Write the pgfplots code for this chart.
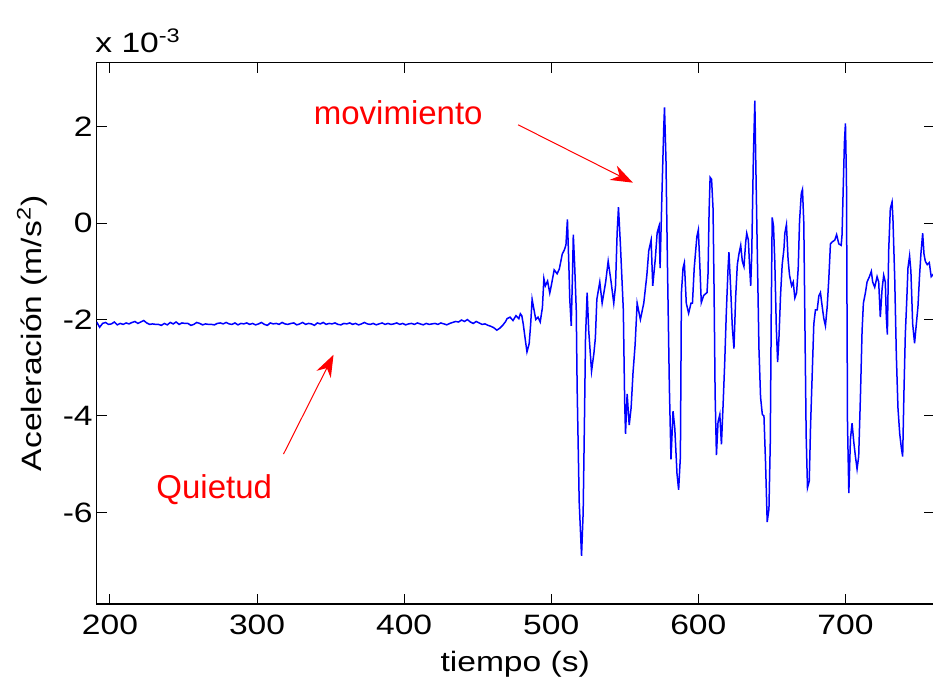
\documentclass[border=0pt]{standalone}
\usepackage{pgfplots}
\pgfplotsset{compat=1.18}
\usepackage{fontspec}
\setmainfont[FakeStretch=1.2]{Liberation Sans}
\newfontfamily\annfont{Liberation Sans}
\usetikzlibrary{arrows.meta}
\newcommand\ff{\fontsize{14}{17}\selectfont}
\begin{document}
\begin{tikzpicture}
\begin{axis}[
  scale only axis, width=418.5pt, height=270.7pt,
  at={(0,0)}, anchor=south west,
  xmin=191, xmax=760, ymin=-7.9, ymax=3.33,
  xtick={200,300,400,500,600,700},
  ytick={-6,-4,-2,0,2},
  tick align=inside, major tick length=5pt,
  axis line style={line width=0.6pt},
  tick style={black, line width=0.5pt},
  scaled ticks=false,
  /pgf/number format/assume math mode=true,
  tick label style={font=\ff},
  yticklabel style={xshift=1.5pt},
  xticklabel style={yshift=-2pt},
  xlabel={tiempo (s)},
  ylabel={Aceleración (m/s\textsuperscript{2})},
  every axis x label/.style={at={(axis description cs:0.5,-0.1256)}, anchor=base, font=\ff},
  every axis y label/.style={at={(axis description cs:-0.0773,0.5)}, rotate=90, anchor=center, font=\ff},
  clip=true,
]
\addplot[blue, line width=0.75pt] coordinates {
(191,-2.05) (193,-2.16) (195,-2.08) (197,-2.06) (199,-2.10) (201,-2.09) (203,-2.05) (205,-2.11) (207,-2.08) (209,-2.10)
(211,-2.07) (213,-2.09) (215,-2.06) (217,-2.04) (219,-2.08) (221,-2.05) (223,-2.02) (225,-2.07) (227,-2.10) (229,-2.09)
(231,-2.10) (233,-2.10) (235,-2.12) (237,-2.08) (239,-2.11) (241,-2.06) (243,-2.09) (245,-2.05) (247,-2.10) (249,-2.07)
(251,-2.08) (253,-2.08) (255,-2.12) (257,-2.10) (259,-2.06) (261,-2.08) (263,-2.11) (265,-2.09) (267,-2.10) (269,-2.10)
(271,-2.11) (273,-2.08) (275,-2.07) (277,-2.09) (279,-2.06) (281,-2.09) (283,-2.10) (285,-2.07) (287,-2.11) (289,-2.08)
(291,-2.09) (293,-2.07) (295,-2.10) (297,-2.08) (299,-2.11) (301,-2.09) (303,-2.06) (305,-2.10) (307,-2.12) (309,-2.07)
(311,-2.09) (313,-2.08) (315,-2.10) (317,-2.06) (319,-2.09) (321,-2.10) (323,-2.08) (325,-2.07) (327,-2.11) (329,-2.09)
(331,-2.06) (333,-2.10) (335,-2.08) (337,-2.09) (339,-2.12) (341,-2.07) (343,-2.09) (345,-2.06) (347,-2.10) (349,-2.08)
(351,-2.09) (353,-2.07) (355,-2.10) (357,-2.11) (359,-2.08) (361,-2.09) (363,-2.07) (365,-2.10) (367,-2.08) (369,-2.11)
(371,-2.09) (373,-2.06) (375,-2.09) (377,-2.10) (379,-2.08) (381,-2.11) (383,-2.09) (385,-2.07) (387,-2.10) (389,-2.08)
(391,-2.10) (393,-2.09) (395,-2.07) (397,-2.10) (399,-2.08) (401,-2.11) (403,-2.09) (405,-2.08) (407,-2.10) (409,-2.07)
(411,-2.09) (413,-2.11) (415,-2.08) (417,-2.10) (419,-2.09) (421,-2.08) (423,-2.10) (425,-2.07) (427,-2.09) (429,-2.11)
(431,-2.08) (433,-2.06) (435,-2.04) (437,-2.05) (439,-2.01) (441,-2.04) (443,-2.00) (445,-2.05) (447,-2.08) (449,-2.04)
(451,-2.07) (453,-2.10) (455,-2.09) (457,-2.12) (459,-2.14) (461,-2.17) (463,-2.22) (465,-2.18) (467,-2.12) (469,-2.04)
(470,-1.98) (472,-1.95) (474,-2.02) (476,-1.92) (478,-1.98) (479,-1.88) (480,-1.92) (481,-2.1) (482.5,-2.45) (483.5,-2.67)
(485,-2.5) (486,-2.1) (487,-1.58) (488,-1.75) (489.5,-2.0) (491,-1.95) (492.5,-2.05) (494,-1.75) (495,-1.15) (496,-1.3)
(497.5,-1.2) (499,-1.45) (500,-1.3) (502,-0.97) (504,-1.05) (505.5,-0.95) (507.5,-0.64) (509,-0.55) (510,-0.45) (511,0.08)
(512,-0.9) (512.6,-1.58) (513.6,-2.13) (514.5,-1.0) (515,-0.24) (516,-0.93) (517,-1.8) (517.6,-3.4) (519,-5.78) (520.6,-6.9)
(521.7,-6.0) (522.6,-4.05) (523.3,-2.38) (524.4,-1.44) (525.5,-2.24) (527.4,-3.07) (529,-2.7) (530,-2.38) (531,-1.58) (533,-1.22)
(534.6,-1.66) (537,-1.22) (538.7,-0.79) (540.7,-1.22) (542.5,-1.66) (543.7,-1.3) (544.8,-0.2) (545.7,0.33) (547,-0.43) (549,-1.8)
(549.9,-3.68) (550.5,-4.37) (551.6,-3.54) (553,-4.19) (554.3,-3.83) (555.6,-3.1) (557,-2.53) (558.4,-1.66) (560.6,-2.0) (562.9,-1.66)
(565,-1.08) (566.3,-0.57) (567.9,-0.35) (569,-1.3) (570.8,-0.72) (572,-0.2) (573.3,-0.06) (574,-0.93) (575.3,0.66) (576.5,2.0)
(577,2.4) (578,1.31) (579,-0.86) (580.3,-3.4) (581.4,-4.9) (582.8,-3.9) (584,-4.26) (585.5,-5.2) (586.6,-5.53) (587.8,-4.84)
(588.5,-1.44) (589.6,-0.93) (590.5,-0.82) (591.8,-1.66) (593.4,-1.87) (595,-1.66) (596,-1.66) (597.2,-0.93) (599,-0.28) (600,-0.14)
(601,-0.86) (602,-1.65) (603.6,-1.5) (605.9,-1.44) (606.6,-1.04) (607.3,0.23) (608,0.95) (609,0.91) (610,0.3) (610.7,-1.4)
(611.4,-3.54) (612.3,-4.81) (613.4,-4.12) (614.6,-3.97) (615.7,-4.59) (616.8,-3.79) (617.9,-2.92) (619,-1.87) (620.2,-0.93) (620.8,-0.6)
(622,-1.37) (623.1,-2.16) (624.2,-2.6) (625.4,-1.51) (626.5,-0.86) (627.6,-0.64) (628.8,-0.46) (629.9,-0.79) (631,-0.9) (632.2,-0.39)
(632.9,-0.21) (634,-0.35) (634.9,-0.93) (635.6,-1.3) (636.3,-0.64) (637.4,1.35) (638.4,2.54) (639,1.35) (640.1,-0.64) (641.2,-2.6)
(642.3,-3.61) (643.5,-3.97) (644.6,-4.0) (645.7,-4.98) (646.8,-6.2) (648,-5.93) (648.9,-4.55) (649.6,-1.73) (650.2,0.12) (651.1,-0.06)
(652,-0.82) (653,-2.16) (653.9,-2.88) (654.8,-2.38) (655.9,-1.48) (657,-0.86) (658.2,-0.53) (658.8,-0.21) (659.9,-0.03) (661,-0.75)
(662,-1.08) (663.4,-1.3) (664.5,-1.22) (665.6,-1.55) (666.8,-1.44) (667.9,-0.93) (668.8,0.04) (670,0.62) (670.8,0.7) (671.7,0.0)
(672.4,-1.95) (673.3,-4.41) (674.2,-5.49) (675.4,-5.35) (676.3,-4.19) (677.4,-3.14) (678.5,-2.09) (679.6,-1.8) (680.8,-1.8) (681.9,-1.51)
(683,-1.44) (684.2,-1.73) (685.3,-1.98) (686.4,-2.13) (687.6,-1.73) (688.7,-1.15) (689.8,-0.43) (691,-0.39) (692.8,-0.35) (694,-0.24)
(695.5,-0.43) (697.1,-0.46) (697.7,-0.24) (698.4,0.62) (699.3,1.67) (700,2.07) (700.7,0.88) (701.4,-4.15) (702.3,-5.6) (703.4,-4.48)
(704.5,-4.15) (705.7,-4.55) (706.8,-4.84) (707.9,-5.1) (709,-4.84) (710.2,-3.58) (711.3,-2.24) (712.2,-1.66) (713.6,-1.44) (714.7,-1.22)
(716.3,-1.11) (717.6,-1.0) (718.5,-1.22) (719.9,-1.33) (721.5,-1.11) (722.6,-1.22) (723.7,-1.95) (724.9,-1.37) (726,-1.08) (727.1,-1.22)
(727.8,-1.95) (728.5,-2.31) (729.4,-0.57) (730.5,0.3) (731.7,0.44) (732.3,0.08) (733.5,-1.15) (734.6,-2.74) (735.7,-3.83) (736.9,-4.37)
(738,-4.66) (738.9,-4.84) (739.8,-3.47) (740.7,-2.31) (741.8,-1.51) (742.5,-0.93) (743.6,-0.68) (744.5,-1.0) (745.7,-2.09) (747,-2.49)
(748.2,-2.09) (749.3,-1.73) (750.4,-1.08) (751.3,-0.64) (752.5,-0.21) (753.4,-0.64) (754.3,-0.79) (755.6,-0.86) (757,-0.82) (758.3,-1.11)
(760,-1.05)
};
\node[red, font=\annfont\fontsize{16.5}{19}\selectfont, anchor=base] at (axis cs:396,2.05) {movimiento};
\node[red, font=\annfont\fontsize{16.5}{19}\selectfont, anchor=base] at (axis cs:270.9,-5.71) {Quietud};
\draw[red, line width=0.5pt, -{Stealth[length=11pt,width=8pt]}] (axis cs:477.5,2.04) -- (axis cs:555.5,0.84);
\draw[red, line width=0.5pt, -{Stealth[length=11pt,width=8pt]}] (axis cs:318,-4.79) -- (axis cs:352,-2.73);
\end{axis}
\node[anchor=base west, font=\ff, inner sep=0pt] at (-0.85pt,275.55pt) {x 10\textsuperscript{-3}};
\pgfresetboundingbox
\path[use as bounding box] (-48.35pt,-38.5pt) rectangle (418.15pt,302pt);
\end{tikzpicture}
\end{document}
